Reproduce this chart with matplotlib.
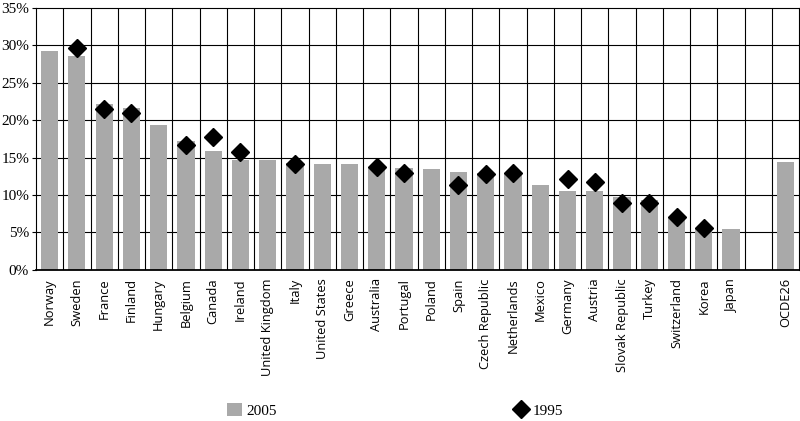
import numpy as np
import matplotlib
matplotlib.use("Agg")
import matplotlib.pyplot as plt
from matplotlib.lines import Line2D
from matplotlib.patches import Patch

countries = ["Norway", "Sweden", "France", "Finland", "Hungary", "Belgium", "Canada",
             "Ireland", "United Kingdom", "Italy", "United States", "Greece", "Australia",
             "Portugal", "Poland", "Spain", "Czech Republic", "Netherlands", "Mexico",
             "Germany", "Austria", "Slovak Republic", "Turkey", "Switzerland", "Korea",
             "Japan", "", "OCDE26"]

v2005 = [29.2, 28.6, 22.2, 21.7, 19.3, 17.2, 15.9, 14.7, 14.7, 14.3, 14.2, 14.2, 13.8,
         13.6, 13.5, 13.1, 12.9, 12.9, 11.4, 10.6, 10.5, 9.7, 9.4, 7.1, 5.4, 5.4,
         np.nan, 14.4]

v1995 = [np.nan, 29.6, 21.5, 20.9, np.nan, 16.7, 17.8, 15.8, np.nan, 14.1, np.nan, np.nan,
         13.8, 12.9, np.nan, 11.3, 12.8, 13.0, np.nan, 12.1, 11.7, 8.9, 9.0, 7.0, 5.6,
         np.nan, np.nan, np.nan]

x = np.arange(len(countries))
gray = "#a9a9a9"

fig = plt.figure(figsize=(8, 4.21), dpi=100)
ax = fig.add_axes([0.045, 0.359, 0.954, 0.622])

ax.bar(x, v2005, width=0.63, color=gray, zorder=2)
ax.plot(x, v1995, linestyle="none", marker="D", markersize=9.5, color="black", zorder=3)

ax.set_xlim(-0.5, len(countries) - 0.5)
ax.set_ylim(0, 35)
ax.set_yticks(np.arange(0, 36, 5))
ax.set_yticklabels([f"{t}%" for t in range(0, 36, 5)], family="Liberation Serif", fontsize=11)

ax.set_xticks(x)
ax.set_xticklabels(countries, rotation=90, family="Open Sans", fontsize=9.3)
ax.tick_params(axis="x", length=0, pad=6)
ax.tick_params(axis="y", length=3, width=0.8, pad=2)

# grid: horizontal at each 5%, vertical at category boundaries
for yv in range(5, 35, 5):
    ax.axhline(yv, color="black", linewidth=0.8, zorder=1)
for xv in x[:-1] + 0.5:
    ax.axvline(xv, color="black", linewidth=0.8, zorder=1)

for s in ["top", "right", "left"]:
    ax.spines[s].set_linewidth(0.8)
ax.spines["bottom"].set_linewidth(1.3)

handles = [Patch(facecolor=gray, edgecolor="none"),
           Line2D([], [], linestyle="none", marker="D", markersize=9, color="black")]
fig.legend(handles, ["2005", "1995"], loc="center", bbox_to_anchor=(0.494, 0.026),
           ncol=2, frameon=False, columnspacing=15.5, handlelength=1.0, handleheight=1.0,
           handletextpad=0.25, prop={"family": "Liberation Serif", "size": 11})

fig.savefig("out.png", dpi=100)
